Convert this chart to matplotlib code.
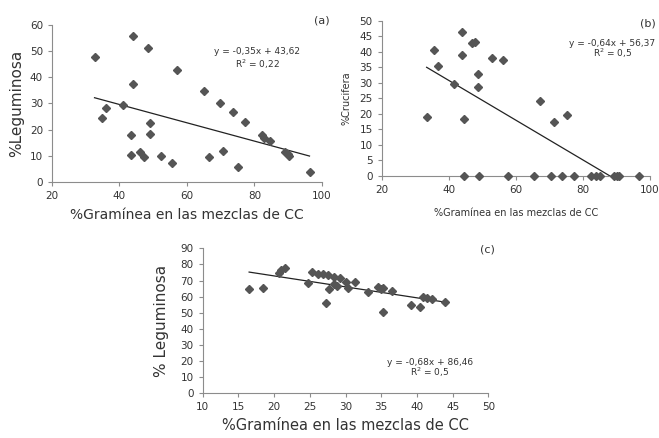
import numpy as np
import matplotlib.pyplot as plt

# panel (a): % Leguminosa vs % Graminea
xa = [32.6, 44.0, 48.4, 57.0, 44.0, 65.1, 69.9, 73.5, 77.1, 41.0, 36.1, 34.8,
      48.9, 48.9, 43.5, 82.2, 82.9, 84.7, 43.5, 46.2, 47.3, 52.3, 55.6, 66.6,
      70.8, 75.0, 89.1, 89.8, 90.3, 96.3]
ya = [47.9, 55.8, 51.1, 42.8, 37.6, 34.9, 30.0, 26.6, 23.1, 29.6, 28.4, 24.5,
      22.4, 18.5, 17.9, 17.9, 17.0, 15.5, 10.2, 11.5, 9.6, 9.8, 7.3, 9.5,
      11.8, 5.7, 11.5, 10.6, 9.8, 4.0]

# panel (b): % Crucifera vs % Graminea
xb = [33.4, 35.6, 36.9, 41.6, 44.0, 44.0, 44.4, 46.8, 47.8, 48.7, 48.7, 53.0,
      56.1, 67.1, 71.5, 75.3,
      44.6, 49.0, 57.6, 65.5, 70.5, 73.9, 77.4, 82.4, 83.8, 85.2, 89.4, 90.2,
      90.8, 96.8]
yb = [19.1, 40.6, 35.4, 29.5, 46.4, 38.8, 18.4, 42.7, 43.2, 32.8, 28.7, 38.1,
      37.3, 24.1, 17.5, 19.7,
      0, 0, 0, 0, 0, 0, 0, 0, 0, 0, 0, 0, 0, 0]

# panel (c): % Leguminosa vs % Graminea
xc = [16.5, 18.5, 20.7, 20.9, 21.5, 24.8, 25.3, 26.2, 26.9, 27.5, 27.2, 27.7,
      28.4, 28.4, 28.8, 29.2, 30.0, 30.3, 31.3, 33.1, 34.6, 34.9, 35.3, 35.3,
      36.5, 39.2, 40.4, 40.8, 41.4, 42.1, 43.9]
yc = [64.9, 65.6, 74.7, 76.5, 77.6, 68.5, 75.1, 74.3, 73.9, 73.2, 56.3, 64.7,
      72.2, 67.8, 66.6, 71.4, 69.3, 65.4, 69.1, 62.9, 65.8, 64.7, 65.6, 50.3,
      63.7, 55.0, 53.4, 59.6, 59.4, 58.5, 56.4]

# trendline coefficients as printed on the chart
fits = {"a": (-0.35, 43.62), "b": (-0.64, 56.37), "c": (-0.68, 86.46)}

mk = "#555555"
spine = "#8c8c8c"
txt = "#333333"

fig = plt.figure(figsize=(6.59, 4.38), dpi=100)


def style(ax, xlim, ylim, xticks, yticks, fs):
    ax.set_xlim(*xlim)
    ax.set_ylim(*ylim)
    ax.set_xticks(xticks)
    ax.set_yticks(yticks)
    for s in ["top", "right"]:
        ax.spines[s].set_visible(False)
    for s in ["left", "bottom"]:
        ax.spines[s].set_color(spine)
        ax.spines[s].set_linewidth(0.8)
    ax.tick_params(colors=spine, labelcolor=txt, labelsize=fs, length=3, width=0.8)


def panel(ax, x, y, key):
    ax.plot(x, y, "D", color=mk, ms=4.2, mec=mk, clip_on=False, zorder=3)
    m, b = fits[key]
    xl = np.array([min(x), max(x)])
    ax.plot(xl, m * xl + b, color="#222222", lw=0.9, zorder=2)


# (a)
ax1 = fig.add_axes([0.0789, 0.5845, 0.4097, 0.3584])
panel(ax1, xa, ya, "a")
style(ax1, (20, 100), (0, 60), range(20, 101, 20), range(0, 61, 10), 7.5)
ax1.set_ylabel("%Leguminosa", fontsize=11, color=txt, labelpad=4)
ax1.set_xlabel("%Gramínea en las mezclas de CC", fontsize=10, color=txt, labelpad=5)
ax1.text(0.76, 0.83, "y = -0,35x + 43,62", transform=ax1.transAxes,
         ha="center", va="center", fontsize=6.5, color=txt)
ax1.text(0.76, 0.75, "R$^2$ = 0,22", transform=ax1.transAxes,
         ha="center", va="center", fontsize=6.5, color=txt)
fig.text(322 / 659, 1 - 20.7 / 438, "(a)", ha="center", va="center",
         fontsize=8, color=txt)

# (b)
ax2 = fig.add_axes([0.5792, 0.5982, 0.4071, 0.3546])
panel(ax2, xb, yb, "b")
style(ax2, (20, 100), (0, 50), range(20, 101, 20), range(0, 51, 5), 7.5)
ax2.set_ylabel("%Crucifera", fontsize=7, color=txt, labelpad=6)
ax2.set_xlabel("%Gramínea en las mezclas de CC", fontsize=7, color=txt, labelpad=9)
ax2.text(0.86, 0.855, "y = -0,64x + 56,37", transform=ax2.transAxes,
         ha="center", va="center", fontsize=6.5, color=txt)
ax2.text(0.86, 0.79, "R$^2$ = 0,5", transform=ax2.transAxes,
         ha="center", va="center", fontsize=6.5, color=txt)
fig.text(648 / 659, 1 - 24 / 438, "(b)", ha="center", va="center",
         fontsize=8, color=txt)

# (c)
ax3 = fig.add_axes([0.3076, 0.1021, 0.4334, 0.3310])
panel(ax3, xc, yc, "c")
style(ax3, (10, 50), (0, 90), range(10, 51, 5), range(0, 91, 10), 7.5)
ax3.set_ylabel("% Leguminosa", fontsize=11, color=txt, labelpad=8)
ax3.set_xlabel("%Gramínea en las mezclas de CC", fontsize=10.5, color=txt, labelpad=4)
ax3.text(0.795, 0.215, "y = -0,68x + 86,46", transform=ax3.transAxes,
         ha="center", va="center", fontsize=6.5, color=txt)
ax3.text(0.795, 0.145, "R$^2$ = 0,5", transform=ax3.transAxes,
         ha="center", va="center", fontsize=6.5, color=txt)
fig.text(487 / 659, 1 - 250 / 438, "(c)", ha="center", va="center",
         fontsize=8, color=txt)

fig.savefig("out.png", dpi=100, facecolor="white")
